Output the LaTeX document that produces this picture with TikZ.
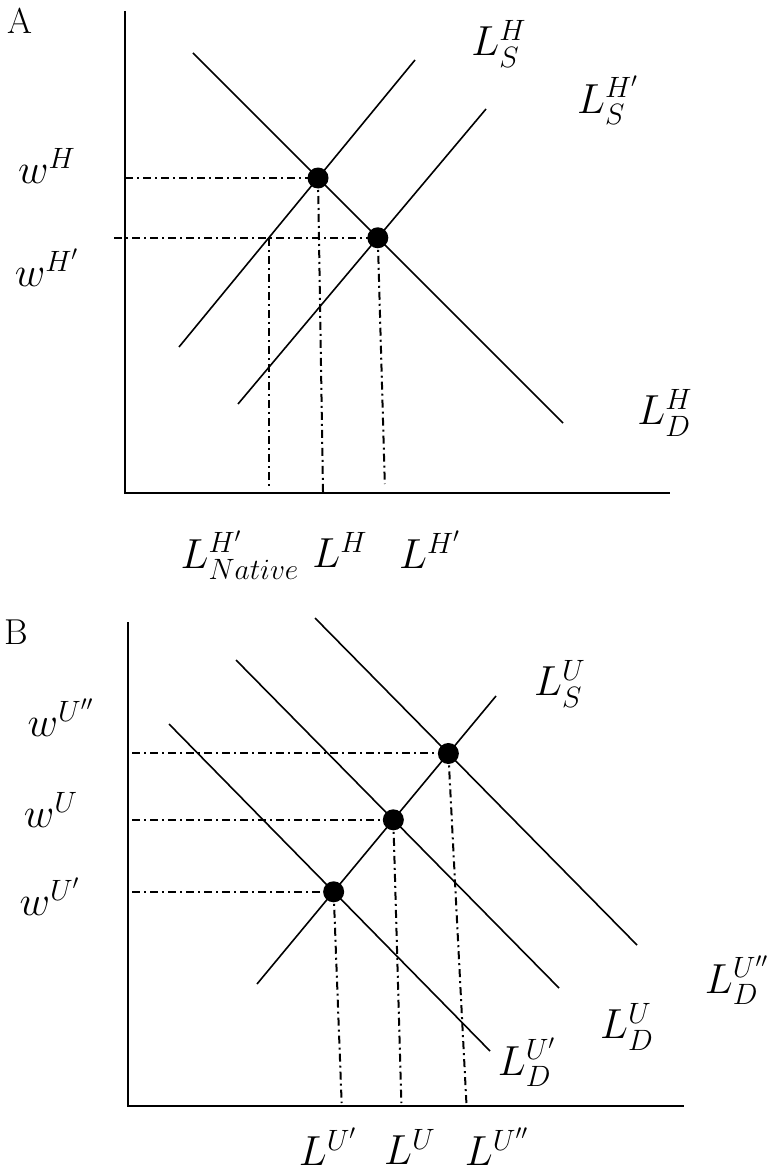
\RequirePackage{fix-cm}
\documentclass[tikz,border=0pt]{standalone}
\usepackage{amsmath}
\begin{document}
\begin{tikzpicture}[x=0.5pt,y=-0.5pt,
  axis/.style={line width=1.3pt},
  curve/.style={line width=0.8pt},
  guide/.style={line width=1pt, dash pattern=on 4pt off 2pt on 1pt off 2pt},
  eq/.style={circle, fill=black, inner sep=0pt, minimum size=10.5pt},
  lbl/.style={inner sep=0pt, font=\fontsize{21}{25}\selectfont},
  panel/.style={inner sep=0pt, font=\fontsize{18}{21}\selectfont}]
\useasboundingbox (0,0) rectangle (766,1176);

% ---------------- Panel A ----------------
\node[panel] (labA) at (20,21) {A};
\coordinate (Atop) at (125,11);
\coordinate (Aorig) at (125,493);
\coordinate (Aright) at (670,493);
\draw[axis] (Atop) -- (Aorig) -- (Aright);

\coordinate (DHa) at (193,53);  \coordinate (DHb) at (563,423);
\coordinate (S1a) at (179,347); \coordinate (S1b) at (415,60);
\coordinate (S2a) at (238,404); \coordinate (S2b) at (486,109);
\draw[curve] (DHa) -- (DHb);
\draw[curve] (S1a) -- (S1b);
\draw[curve] (S2a) -- (S2b);

\coordinate (E1c) at (intersection of DHa--DHb and S1a--S1b);
\coordinate (E2c) at (intersection of DHa--DHb and S2a--S2b);
\coordinate (NatC) at (intersection of Atop |- E2c--E2c and S1a--S1b);

\draw[guide] (Atop |- E1c) -- (E1c);
\draw[guide] ([xshift=-5.5pt]Atop |- E2c) -- (E2c);
\draw[guide] (E1c) -- ([xshift=2.5pt]E1c |- Aorig);
\draw[guide] (E2c) -- ([xshift=3.5pt,yshift=4.5pt]E2c |- Aorig);
\draw[guide] (NatC) -- ([yshift=3.5pt]NatC |- Aorig);

\node[eq] (E1) at (E1c) {};
\node[eq] (E2) at (E2c) {};

\node[lbl] (wH)  at (47,166) {$w^{H}$};
\node[lbl] (wH2) at (47,268) {$w^{H'}$};
\node[lbl] (LSH) at (499,44) {$L_S^{H}$};
\node[lbl] (LSH2) at (608,100) {$L_S^{H'}$};
\node[lbl] (LDH) at (665,413) {$L_D^{H}$};
\node[lbl] (LNat) at (240,555) {$L^{H'}_{Native}$};
\node[lbl] (LH)  at (340,550) {$L^{H}$};
\node[lbl] (LH2) at (430,550) {$L^{H'}$};

% ---------------- Panel B ----------------
\node[panel] (labB) at (16,632) {B};
\coordinate (Btop) at (128,622);
\coordinate (Borig) at (128,1106);
\coordinate (Bright) at (684,1106);
\draw[axis] (Btop) -- (Borig) -- (Bright);

\coordinate (D2a) at (315,618); \coordinate (D2b) at (637,945);
\coordinate (D0a) at (236,660); \coordinate (D0b) at (559,988);
\coordinate (D1a) at (169,724); \coordinate (D1b) at (490,1051);
\coordinate (SUa) at (257,984); \coordinate (SUb) at (496,696);
\draw[curve] (D2a) -- (D2b);
\draw[curve] (D0a) -- (D0b);
\draw[curve] (D1a) -- (D1b);
\draw[curve] (SUa) -- (SUb);

\coordinate (F2c) at (intersection of D2a--D2b and SUa--SUb);
\coordinate (F0c) at (intersection of D0a--D0b and SUa--SUb);
\coordinate (F1c) at (intersection of D1a--D1b and SUa--SUb);

\draw[guide] ([xshift=2pt]Btop |- F2c) -- (F2c);
\draw[guide] ([xshift=2pt]Btop |- F0c) -- (F0c);
\draw[guide] ([xshift=2pt]Btop |- F1c) -- (F1c);
\draw[guide] (F1c) -- ([xshift=4pt,yshift=1.5pt]F1c |- Borig);
\draw[guide] (F0c) -- ([xshift=4pt,yshift=1.5pt]F0c |- Borig);
\draw[guide] (F2c) -- ([xshift=9pt,yshift=1.5pt]F2c |- Borig);

\node[eq] (F2) at (F2c) {};
\node[eq] (F0) at (F0c) {};
\node[eq] (F1) at (F1c) {};

\node[lbl] (wU2) at (61,718) {$w^{U''}$};
\node[lbl] (wU)  at (51,810) {$w^{U}$};
\node[lbl] (wU1) at (50,897) {$w^{U'}$};
\node[lbl] (LSU) at (560,684) {$L_S^{U}$};
\node[lbl] (LDU2) at (737,980) {$L_D^{U''}$};
\node[lbl] (LDU) at (627,1027) {$L_D^{U}$};
\node[lbl] (LDU1) at (527,1062) {$L_D^{U'}$};
\node[lbl] (LU1) at (328,1147) {$L^{U'}$};
\node[lbl] (LU)  at (410,1147) {$L^{U}$};
\node[lbl] (LU2) at (497,1147) {$L^{U''}$};
\end{tikzpicture}
\end{document}
